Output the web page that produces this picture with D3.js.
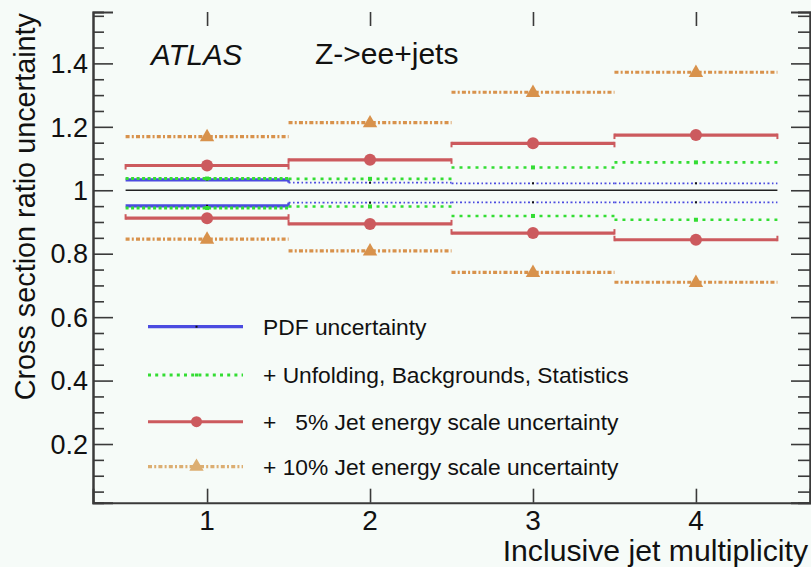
<!DOCTYPE html>
<html>
<head>
<meta charset="utf-8">
<script src="https://cdn.jsdelivr.net/npm/d3@7"></script>
<style>
  html, body { margin: 0; padding: 0; background: #f6fbf8; }
  svg { display: block; font-family: "Liberation Sans", Arial, sans-serif; }
</style>
</head>
<body>
<svg id="chart" width="811" height="567"></svg>
<script>
// ---- data ----
const bins = [1, 2, 3, 4];
const xTickLabels = ["1", "2", "3", "4"];
const yTickValues = [0.2, 0.4, 0.6, 0.8, 1.0, 1.2, 1.4];
const yTickLabels = ["0.2", "0.4", "0.6", "0.8", "1", "1.2", "1.4"];

const pdfUp     = [1.033, 1.024, 1.022, 1.022];
const pdfDown   = [0.951, 0.961, 0.962, 0.962];
const unfUp     = [1.037, 1.036, 1.072, 1.088];
const unfDown   = [0.944, 0.949, 0.919, 0.907];
const jes5Up    = [1.078, 1.096, 1.148, 1.174];
const jes5Down  = [0.912, 0.894, 0.865, 0.844];
const jes10Up   = [1.169, 1.213, 1.309, 1.372];
const jes10Down = [0.846, 0.809, 0.741, 0.710];

const legendLabels = [
  "PDF uncertainty",
  "+ Unfolding, Backgrounds, Statistics",
  "+   5% Jet energy scale uncertainty",
  "+ 10% Jet energy scale uncertainty"
];

// ---- styles ----
const C = { blue: "#4b4be0", green: "#33dd33", red: "#cc5a5e", orange: "#d8924c", axis: "#3a3a3a" };

const svg = d3.select("#chart");
const L = 93, R = 810, T = 12, B = 502.7;

const x = d3.scaleLinear().domain([0.3, 4.7]).range([L, R]);
const y = d3.scaleLinear().domain([0.015, 1.562]).range([B, T]);

svg.append("rect").attr("width", 811).attr("height", 567).attr("fill", "#f6fbf8");

// ---- axes ----
const minorY = d3.range(0.05, 1.5601, 0.05).filter(v => !yTickValues.some(t => Math.abs(t - v) < 1e-6));

const gl = svg.append("g").attr("transform", `translate(${L},0)`)
  .call(d3.axisRight(y).tickValues(yTickValues).tickSize(20).tickFormat(""));
gl.append("g").call(d3.axisRight(y).tickValues(minorY).tickSize(11).tickFormat(""));
const gr = svg.append("g").attr("transform", `translate(${R},0)`)
  .call(d3.axisLeft(y).tickValues(yTickValues).tickSize(19).tickFormat(""));
gr.append("g").call(d3.axisLeft(y).tickValues(minorY).tickSize(12).tickFormat(""));
const gb = svg.append("g").attr("transform", `translate(0,${B})`)
  .call(d3.axisTop(x).tickValues(bins).tickSize(14).tickFormat(""));
const gt = svg.append("g").attr("transform", `translate(0,${T})`)
  .call(d3.axisBottom(x).tickValues(bins).tickSize(14).tickFormat(""));
gt.select(".domain").remove();

svg.selectAll(".domain").attr("stroke", C.axis).attr("stroke-width", 2);
svg.selectAll(".tick line").attr("stroke", C.axis).attr("stroke-width", 1.6);

// tick labels
svg.append("g").selectAll("text").data(yTickValues).join("text")
  .attr("x", 88).attr("y", d => y(d)).attr("dy", "0.36em")
  .attr("text-anchor", "end").attr("font-size", 27).attr("fill", "#111")
  .text((d, i) => yTickLabels[i]);
svg.append("g").selectAll("text").data(bins).join("text")
  .attr("x", d => x(d)).attr("y", 530)
  .attr("text-anchor", "middle").attr("font-size", 28).attr("fill", "#111")
  .text((d, i) => xTickLabels[i]);

// axis titles
svg.append("text").attr("transform", "translate(35,13) rotate(-90)")
  .attr("text-anchor", "end").attr("font-size", 28.8).attr("fill", "#111")
  .text("Cross section ratio uncertainty");
svg.append("text").attr("x", 808).attr("y", 561)
  .attr("text-anchor", "end").attr("font-size", 30.2).attr("fill", "#111")
  .text("Inclusive jet multiplicity");

// labels
svg.append("text").attr("x", 151).attr("y", 65).attr("font-size", 29.5)
  .attr("font-style", "italic").attr("fill", "#111").text("ATLAS");
svg.append("text").attr("x", 315).attr("y", 63.5).attr("font-size", 30)
  .attr("fill", "#111").text("Z->ee+jets");

// ---- reference line at 1 ----
svg.append("line").attr("x1", x(0.5)).attr("x2", x(4.5)).attr("y1", y(1)).attr("y2", y(1))
  .attr("stroke", "#222").attr("stroke-width", 1.5);

// ---- series ----
const plot = svg.append("g");
function segs(vals, cls, color, widthFn, dashFn, caps) {
  const g = plot.append("g").attr("class", cls);
  g.selectAll("line.h").data(bins).join("line").attr("class", "h")
    .attr("x1", d => x(d - 0.5)).attr("x2", d => x(d + 0.5))
    .attr("y1", (d, i) => y(vals[i])).attr("y2", (d, i) => y(vals[i]))
    .attr("stroke", color).attr("stroke-width", (d, i) => widthFn(i))
    .attr("stroke-dasharray", (d, i) => dashFn(i));
  if (caps) {
    const capData = [];
    bins.forEach((b, i) => {
      const dir = vals[i] > 1 ? 1 : -1;
      capData.push({ x: b - 0.5, v: vals[i], dir });
      capData.push({ x: b + 0.5, v: vals[i], dir });
    });
    g.selectAll("line.c").data(capData).join("line").attr("class", "c")
      .attr("x1", d => x(d.x)).attr("x2", d => x(d.x))
      .attr("y1", d => y(d.v) - 1.5 * d.dir).attr("y2", d => y(d.v) + 4 * d.dir)
      .attr("stroke", color).attr("stroke-width", 2);
  }
  return g;
}

// PDF (blue)
[pdfUp, pdfDown].forEach(vals => {
  segs(vals, "pdf", C.blue, i => i === 0 ? 3.2 : 1.8, i => i === 0 ? null : "2,2.5,1.5,2.5");
});
[pdfUp, pdfDown].forEach(vals => {
  plot.append("line").attr("x1", x(1.5)).attr("x2", x(1.5))
    .attr("y1", y(vals[0])).attr("y2", y(vals[1]))
    .attr("stroke", C.blue).attr("stroke-width", 2.5);
});
plot.selectAll("rect.pdfm").data(bins.flatMap((b, i) => [[b, pdfUp[i]], [b, pdfDown[i]]])).join("rect")
  .attr("class", "pdfm").attr("x", d => x(d[0]) - 1).attr("y", d => y(d[1]) - 1)
  .attr("width", 2).attr("height", 2).attr("fill", "#111");

// Unfolding (green)
[unfUp, unfDown].forEach(vals => {
  segs(vals, "unf", C.green, i => i === 0 ? 3 : 2.6, i => i === 0 ? "3,2.5" : "3,5", false);
});
plot.selectAll("rect.unfm").data(bins.flatMap((b, i) => [[b, unfUp[i]], [b, unfDown[i]]])).join("rect")
  .attr("class", "unfm").attr("x", d => x(d[0]) - 2).attr("y", d => y(d[1]) - 2)
  .attr("width", 4).attr("height", 4).attr("fill", C.green);

// 5% JES (red)
[jes5Up, jes5Down].forEach(vals => {
  segs(vals, "jes5", C.red, i => 3.2, i => null, true);
});
plot.selectAll("circle.jes5m").data(bins.flatMap((b, i) => [[b, jes5Up[i]], [b, jes5Down[i]]])).join("circle")
  .attr("class", "jes5m").attr("cx", d => x(d[0])).attr("cy", d => y(d[1]))
  .attr("r", 6).attr("fill", C.red);

// 10% JES (orange)
[jes10Up, jes10Down].forEach(vals => {
  segs(vals, "jes10", C.orange, i => 3.2, i => "4,2.2,2,2.2", false);
});
const tri = d3.symbol().type(d3.symbolTriangle).size(90);
plot.selectAll("path.jes10m").data(bins.flatMap((b, i) => [[b, jes10Up[i]], [b, jes10Down[i]]])).join("path")
  .attr("class", "jes10m").attr("d", tri)
  .attr("transform", d => `translate(${x(d[0])},${y(d[1]) + 0.5})`)
  .attr("fill", C.orange);

// ---- legend ----
const legY = [326.7, 375, 421.7, 466.7];
const lx1 = 148, lx2 = 243, lxm = 196.5;
const leg = svg.append("g");
leg.append("line").attr("x1", lx1).attr("x2", lx2).attr("y1", legY[0]).attr("y2", legY[0])
  .attr("stroke", C.blue).attr("stroke-width", 3.2);
leg.append("rect").attr("x", lxm - 1).attr("y", legY[0] - 1).attr("width", 2).attr("height", 2).attr("fill", "#111");
leg.append("line").attr("x1", lx1).attr("x2", lx2).attr("y1", legY[1]).attr("y2", legY[1])
  .attr("stroke", C.green).attr("stroke-width", 3).attr("stroke-dasharray", "3,4.2");
leg.append("rect").attr("x", lxm - 1.5).attr("y", legY[1] - 1.5).attr("width", 3).attr("height", 3).attr("fill", C.green);
leg.append("line").attr("x1", lx1).attr("x2", lx2).attr("y1", legY[2]).attr("y2", legY[2])
  .attr("stroke", C.red).attr("stroke-width", 3);
leg.append("circle").attr("cx", lxm).attr("cy", legY[2]).attr("r", 5.5).attr("fill", C.red);
leg.append("line").attr("x1", lx1).attr("x2", lx2).attr("y1", legY[3]).attr("y2", legY[3])
  .attr("stroke", "#dcae72").attr("stroke-width", 3.2).attr("stroke-dasharray", "4,2.2,2,2.2");
leg.append("path").attr("d", tri).attr("transform", `translate(${lxm},${legY[3]})`).attr("fill", "#dcae72");

leg.selectAll("text").data(legendLabels).join("text")
  .attr("x", 263).attr("y", (d, i) => legY[i] + 7.8)
  .attr("font-size", 22.8).attr("fill", "#111").attr("xml:space", "preserve")
  .style("white-space", "pre")
  .text(d => d);
</script>
</body>
</html>
